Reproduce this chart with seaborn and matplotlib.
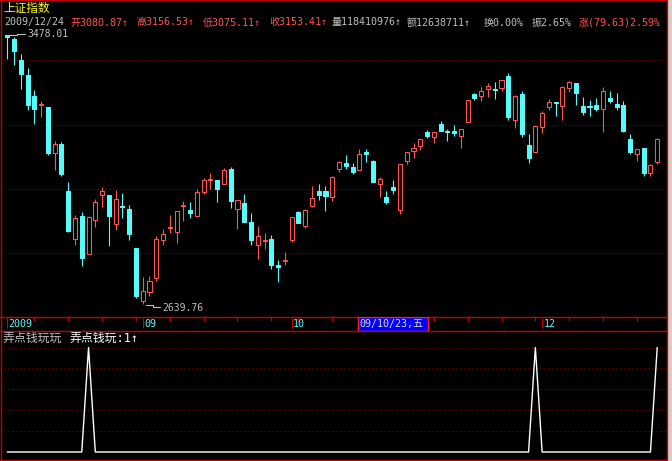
import matplotlib
matplotlib.use("Agg")
import matplotlib.pyplot as plt
from matplotlib.patches import Rectangle
import seaborn as sns
import numpy as np
import pandas as pd

# ---------------- data (daily bars, 2009-08-04 .. 2009-12-24) ----------------
opens = [3477, 3465, 3400, 3354, 3288, 3260, 3253, 3111, 3139, 2992,
         2843, 2914, 2797, 2902, 2981, 2979, 2890, 2946, 2936, 2814,
         2650, 2678, 2722, 2840, 2877, 2865, 2944, 2933, 2915, 2990,
         3027, 3026, 3015, 3061, 2937, 2955, 2895, 2824, 2836, 2842,
         2761, 2774, 2839, 2927, 2882, 2946, 2992, 2992, 2974, 3062,
         3080, 3067, 3058, 3113, 3086, 3015, 2973, 3005, 2934, 3086,
         3117, 3132, 3175, 3161, 3201, 3179, 3180, 3163, 3207, 3293,
         3289, 3309, 3311, 3313, 3350, 3213, 3295, 3135, 3113, 3192,
         3254, 3268, 3258, 3313, 3328, 3257, 3257, 3260, 3247, 3282,
         3263, 3260, 3154, 3107, 3126, 3048, 3080.87]
highs = [3478.01, 3471, 3419, 3375, 3306, 3272, 3254, 3148, 3145, 3020,
         2917, 2927, 2914, 2967, 3005, 2979, 2995, 2987, 2948, 2814,
         2724, 2727, 2852, 2874, 2917, 2930, 2960, 2957, 2998, 3032,
         3048, 3027, 3064, 3067, 2965, 2983, 2924, 2882, 2861, 2855,
         2777, 2801, 2912, 2931, 2936, 3008, 3014, 3008, 3038, 3084,
         3104, 3080, 3123, 3123, 3087, 3035, 2992, 3026, 3077, 3114,
         3142, 3155, 3182, 3176, 3210, 3185, 3198, 3186, 3277, 3298,
         3316, 3328, 3332, 3339, 3359, 3292, 3303, 3169, 3195, 3241,
         3279, 3269, 3319, 3335, 3329, 3285, 3276, 3282, 3316, 3303,
         3298, 3272, 3169, 3124, 3127, 3077, 3156.53]
lows = [3403, 3385, 3310, 3245, 3202, 3224, 3105, 3057, 3039, 2864,
        2824, 2758, 2795, 2880, 2943, 2820, 2871, 2909, 2839, 2660,
        2639.76, 2666, 2713, 2824, 2860, 2831, 2899, 2909, 2913, 2983,
        2997, 2957, 3013, 2940, 2872, 2895, 2824, 2781, 2811, 2750,
        2709, 2761, 2833, 2892, 2877, 2943, 2965, 2931, 2961, 3052,
        3061, 3045, 3057, 3083, 3020, 2974, 2952, 2983, 2921, 3077,
        3094, 3120, 3157, 3142, 3178, 3148, 3163, 3126, 3206, 3276,
        3272, 3285, 3279, 3303, 3213, 3188, 3160, 3080, 3112, 3172,
        3244, 3226, 3213, 3300, 3260, 3229, 3226, 3241, 3175, 3266,
        3244, 3175, 3107, 3086, 3038, 3038, 3075.11]
closes = [3471, 3429, 3358, 3261, 3248, 3263, 3111, 3139, 3046, 2868,
          2908, 2783, 2911, 2957, 2992, 2915, 2967, 2942, 2859, 2666,
          2679, 2711, 2841, 2857, 2879, 2929, 2947, 2924, 2989, 3026,
          3030, 2999, 3057, 2961, 2964, 2896, 2840, 2852, 2838, 2762,
          2754, 2777, 2911, 2893, 2932, 2970, 2979, 2976, 3035, 3083,
          3070, 3051, 3107, 3107, 3021, 3029, 2958, 2995, 3076, 3113,
          3126, 3154, 3164, 3175, 3179, 3175, 3173, 3185, 3276, 3282,
          3303, 3319, 3308, 3338, 3223, 3288, 3169, 3094, 3194, 3235,
          3269, 3265, 3316, 3332, 3298, 3238, 3253, 3247, 3303, 3272,
          3253, 3179, 3113, 3123, 3048, 3073.78, 3153.41]

signal_bars = [12, 78, 96]                 # indicator equals 1 on these bars, 0 elsewhere
month_labels = ["2009", "09", "10", "12"]  # visible month labels
month_label_bars = [0, 20, 42, 79]
month_bars = [0, 20, 42, 58, 79]           # long month ticks
week_bars = [4, 9, 14, 19, 24, 29, 34, 39, 43, 48, 53, 58, 63, 68, 73, 78, 83, 88, 93]
cursor_bar = 52
cursor_label = "09/10/23,五"
main_grid_levels = [3400, 3197, 2997, 2798]
sub_grid_levels = [0.2, 0.4, 0.6, 0.8, 1.0]
title = "上证指数"
last_date = "2009/12/24"
volume_txt = "118410976"
amount_txt = "12638711"
turnover_txt = "0.00%"
indicator_title = "弄点钱玩玩"
indicator_name = "弄点钱玩"

# ---------------- style ----------------
sns.set_theme(style="dark")
plt.rcParams["font.family"] = ["DejaVu Sans Mono", "Noto Sans CJK SC"]
plt.rcParams["lines.scale_dashes"] = False
FAM = ["DejaVu Sans Mono", "Noto Sans CJK SC"]

RED = "#ff5454"
CYAN = "#54fcfc"
GRAY = "#c0c0c0"
BORDER = "#c80000"
GRID = "#a00000"

W, H = 672, 461
X0, DX = 7.3, 6.77          # pixel position of first bar, pixel step per bar
n = len(opens)
idx = np.arange(n)

fig = plt.figure(figsize=(W / 100, H / 100), dpi=100, facecolor="black")

# background / overlay axes in pixel units
bg = fig.add_axes([0, 0, 1, 1])
bg.set_xlim(0, W)
bg.set_ylim(H, 0)
bg.axis("off")

MAIN_TOP, MAIN_BOT = 0.0, 316.7
SUB_TOP, SUB_BOT = 331.3, 458.0

xlim = (-X0 / DX, (W - X0) / DX)

# ---------------- main candle panel ----------------
ax = fig.add_axes([0, 1 - MAIN_BOT / H, 1, (MAIN_BOT - MAIN_TOP) / H])
ax.set_facecolor("none")
ax.axis("off")
ax.set_xlim(*xlim)
p_per_px = 3.116
ax.set_ylim(3478.01 - (MAIN_BOT - 35) * p_per_px, 3478.01 + 35 * p_per_px)

for lv in main_grid_levels:
    ax.axhline(lv, xmin=5 / W, xmax=665 / W, color=GRID, lw=0.75, dashes=(0.75, 2.13))

o = np.array(opens); h = np.array(highs); l = np.array(lows); c = np.array(closes)
up = c >= o
cols = np.where(up, RED, CYAN)
ax.vlines(idx, l, h, colors=cols, lw=0.8, zorder=2)
body_lo = np.minimum(o, c)
body_h = np.maximum(np.abs(c - o), 0.4)
ax.bar(idx, body_h, bottom=body_lo, width=0.6,
       color=np.where(up, "black", CYAN), edgecolor=cols, linewidth=0.75, zorder=3)

# max / min labels
imax = int(np.argmax(h)); imin = int(np.argmin(l))
ax.plot([imax + 0.3, imax + 1.4, imax + 1.4, imax + 2.65],
        [h[imax], h[imax], h[imax] + 3, h[imax] + 3], color=GRAY, lw=0.8, zorder=4)
ax.text(imax + 2.9, h[imax] + 3, f"{h[imax]:.2f}", color=GRAY, fontsize=7,
        family=FAM, va="center", ha="left")
ax.plot([imin + 0.45, imin + 1.5, imin + 1.5, imin + 2.6],
        [l[imin] - 3, l[imin] - 3, l[imin] - 9, l[imin] - 9], color=GRAY, lw=0.8, zorder=4)
ax.text(imin + 2.85, l[imin] - 11, f"{l[imin]:.2f}", color=GRAY, fontsize=7,
        family=FAM, va="center", ha="left")

# ---------------- header texts ----------------
def ptxt(x, y, s, color, size=7.2, fam=FAM):
    bg.text(x, y, s, color=color, fontsize=size, family=fam, va="center", ha="left")

ptxt(3.5, 8, title, "#ffff00", 8.4, ["Noto Sans CJK SC"])
lo_, hi_, lw_, cl_ = opens[-1], highs[-1], lows[-1], closes[-1]
prev = closes[-2]
chg = cl_ - prev
ptxt(4, 22.5, last_date, GRAY)
ptxt(70.5, 22.5, f"开{lo_:.2f}↑", RED)
ptxt(136.5, 22.5, f"高{hi_:.2f}↑", RED)
ptxt(202.5, 22.5, f"低{lw_:.2f}↑", RED)
ptxt(269.5, 22.5, f"收{cl_:.2f}↑", RED)
ptxt(331.5, 22.5, f"量{volume_txt}↑", GRAY)
ptxt(406.5, 22.5, f"额{amount_txt}↑", GRAY)
ptxt(484, 22.5, f"换{turnover_txt}", GRAY)
ptxt(531.5, 22.5, f"振{(hi_ - lw_) / prev * 100:.2f}%", GRAY)
ptxt(579, 22.5, f"涨({chg:.2f}){chg / prev * 100:.2f}%", RED)

# ---------------- date strip ----------------
st = fig.add_axes([0, 1 - SUB_TOP / H, 1, (SUB_TOP - MAIN_BOT) / H])
st.set_facecolor("none")
st.axis("off")
st.set_xlim(*xlim)
st.set_ylim(SUB_TOP - MAIN_BOT, 0)
st.vlines(week_bars, 0, 3.8, colors=BORDER, lw=0.8)
st.vlines(month_bars, 1, 11.5, colors=BORDER, lw=0.8)
for b, lab in zip(month_label_bars, month_labels):
    st.text(b + 0.2, 7.6, lab, color=CYAN, fontsize=7.2, family=FAM, va="center", ha="left")
st.add_patch(Rectangle((cursor_bar - 0.15, 0.6), 70 / DX, 13.4, facecolor="#0000ff",
                       edgecolor="#ff2020", lw=1.0, zorder=5))
st.text(cursor_bar + 0.05, 7.6, cursor_label, color="#e0e0e0", fontsize=7.2,
        family=FAM, va="center", ha="left", zorder=6)

# ---------------- indicator panel ----------------
sub = fig.add_axes([0, 1 - SUB_BOT / H, 1, (SUB_BOT - SUB_TOP) / H])
sub.set_facecolor("none")
sub.set_xlim(*xlim)
sub.set_ylim((452 - SUB_BOT) / 104.5, 1 + (347.5 - SUB_TOP) / 104.5)
for lv in sub_grid_levels:
    sub.axhline(lv, xmin=4 / W, xmax=667 / W, color=GRID, lw=0.75, dashes=(0.75, 2.13))
signal = [1 if i in signal_bars else 0 for i in range(n)]
df = pd.DataFrame({"bar": idx, "signal": signal})
sns.lineplot(data=df, x="bar", y="signal", ax=sub, color="white", lw=1.0, legend=False)
sub.axis("off")

ptxt(3, 338, indicator_title, GRAY, 8.6)
ptxt(70, 338, f"{indicator_name}:{signal[-1]}↑", "white", 8.6)

# ---------------- frame lines ----------------
bline = dict(color=BORDER, lw=1.0)
bg.plot([0, 667], [0.5, 0.5], **bline)
bg.plot([1, 1], [0, H], **bline)
bg.plot([0, 667], [MAIN_BOT, MAIN_BOT], **bline)
bg.plot([0, 667], [SUB_TOP, SUB_TOP], **bline)
bg.plot([0, 667], [459.5, 459.5], **bline)
bg.plot([666.5, 666.5], [0, H], **bline)
bg.add_patch(Rectangle((668, 0), 4, H, facecolor="#d4d0c8", edgecolor="none"))

fig.savefig("out.png", dpi=100, facecolor="black")
